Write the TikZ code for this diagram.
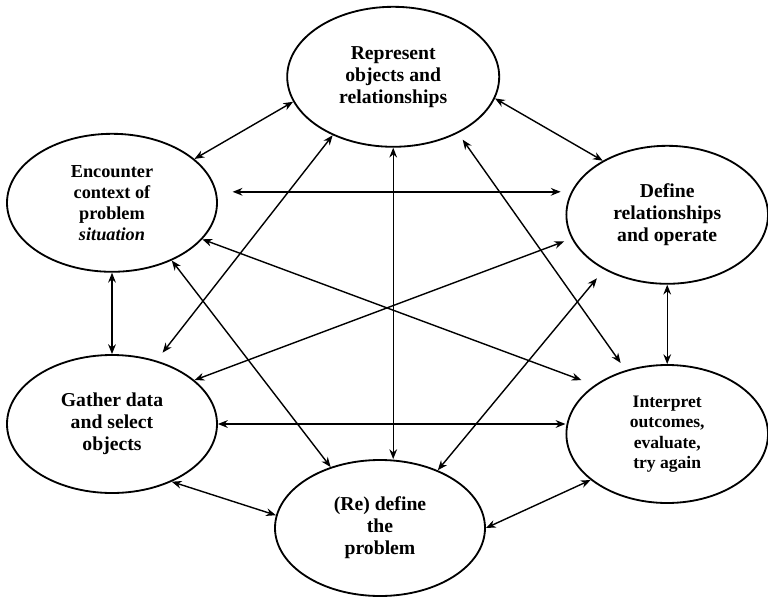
\documentclass[tikz,border=0pt]{standalone}
\usepackage{fontspec}
\setmainfont{Liberation Serif}
\usetikzlibrary{shapes.geometric,arrows.meta}

\newcommand*{\xmax}{19.2}
\newcommand*{\ymax}{15}

\begin{document}
\begin{tikzpicture}
[
	stage/.style={ellipse,draw,line width=1.3pt,inner sep=0pt,minimum width=5.25cm,minimum height=3.45cm,align=center,font=\fontsize{14}{15.6}\selectfont\bfseries},
	link/.style={{Stealth[length=7pt,width=5.5pt]}-{Stealth[length=7pt,width=5.5pt]},line width=1pt}
]

	\useasboundingbox (0,0) rectangle (\xmax,\ymax);

	% stages
	\node[stage,minimum width=5.3cm,minimum height=3.5cm] (rep) at (9.83,13.08) {Represent\\objects and\\relationships};
	\node[stage,font=\fontsize{13}{15}\selectfont\bfseries] (enc) at (2.8,9.93) {Encounter\\context of\\problem\\\textit{situation}};
	\node[stage,minimum width=5.04cm] (def) at (16.68,9.63) {Define\\relationships\\and operate};
	\node[stage] (gat) at (2.8,4.4) {Gather data\\and select\\objects};
	\node[stage,minimum width=5.04cm,font=\fontsize{12.5}{14.5}\selectfont\bfseries] (int) at (16.68,4.15) {Interpret\\outcomes,\\evaluate,\\try again};
	\node[stage,minimum height=3.4cm] (redef) at (9.5,1.8) {(Re) define\\the\\problem};

	% links from encounter
	\draw[link] (enc.28) -- (rep.194);
	\draw[link,shorten <=0.4cm,shorten >=0.12cm] (enc.6) -- (enc.6 -| def.west);
	\draw[link,shorten >=0.35cm] (enc.-22) -- (int.146);
	\draw[link] (enc.-44) -- (redef.129);
	\draw[link] (enc.south) -- (gat.north);

	% links from represent
	\draw[link] (rep.-12) -- (def.140);
	\draw[link] (rep.south) -- (rep.south |- redef.north);
	\draw[link,shorten <=0.2cm,shorten >=0.22cm] (rep.-41) -- (int.123);
	\draw[link,shorten >=0.25cm] (rep.224) -- (gat.55);

	% links from define
	\draw[link,shorten >=0.2cm] (gat.28) -- (def.194);
	\draw[link,shorten <=0.28cm] (def.221) -- (redef.45);
	\draw[link] (def.south) -- (int.north);

	% the rest
	\draw[link] (gat.east) -- (gat.east -| int.west);
	\draw[link] (gat.-44) -- (redef.173);
	\draw[link] (redef.east) -- (int.211);

\end{tikzpicture}
\end{document}
